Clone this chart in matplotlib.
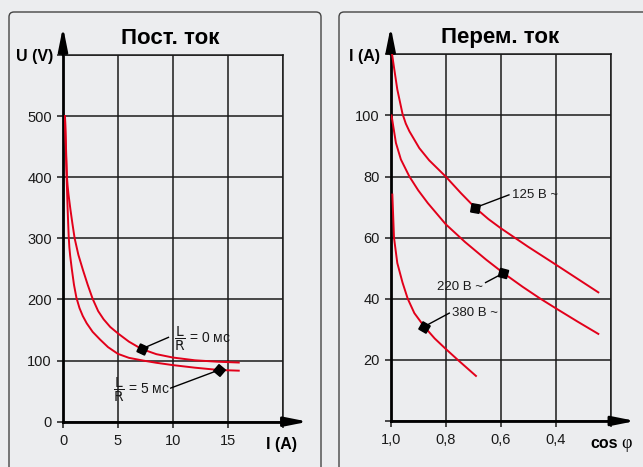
import numpy as np
import matplotlib.pyplot as plt
from matplotlib.patches import FancyBboxPatch
from matplotlib.transforms import IdentityTransform

# --- data ---
# DC: U (V) vs I (A)
dc_i_0 = [0.18, 0.27, 0.36, 0.42, 0.5, 0.67, 0.85, 1.06, 1.4, 1.82, 2.25, 2.7, 3.2, 3.7, 4.3, 5.0,
          6.0, 7.15, 8.5, 10.0, 12.0, 14.0, 16.0]
dc_u_0 = [500, 450, 400, 386, 372, 348, 325, 300, 273, 248, 224, 201, 181, 167.5, 155, 144.5,
          131, 119, 110.5, 105, 100.5, 98.2, 96.8]
dc_i_5 = [0.18, 0.25, 0.33, 0.42, 0.47, 0.52, 0.58, 0.65, 0.8, 1.0, 1.22, 1.5, 1.8, 2.16, 2.7, 3.37,
          4.1, 5.0, 6.0, 7.3, 8.5, 10.0, 12.0, 14.2, 16.0]
dc_u_5 = [500, 452, 400, 349, 325, 303, 285, 272, 250, 224, 203, 186, 173, 161, 147, 134.5,
          122, 111, 104.5, 100, 96.4, 92.6, 88.4, 84.6, 83.5]
dc_mark_0 = (7.15, 119)
dc_mark_5 = (14.2, 84.6)

# AC: I (A) vs cos phi
ac_cos_125 = [0.995, 0.987, 0.976, 0.957, 0.945, 0.932, 0.896, 0.86, 0.8, 0.745, 0.693, 0.645, 0.6,
              0.5, 0.4, 0.32, 0.245]
ac_i_125 = [120, 115.1, 108.5, 100.5, 97.3, 94.8, 89.3, 85.3, 80, 74.6, 69.8, 66.1, 63.1,
            57, 51.2, 46.5, 42.1]
ac_cos_220 = [0.997, 0.981, 0.963, 0.932, 0.9, 0.865, 0.8, 0.73, 0.653, 0.59, 0.52, 0.457,
              0.4, 0.32, 0.245]
ac_i_220 = [100, 91, 85.6, 80, 75.5, 71.3, 64.4, 58.6, 52.8, 48.4, 43.9, 40.1,
            36.9, 32.5, 28.5]
ac_cos_380 = [0.994, 0.988, 0.976, 0.957, 0.938, 0.914, 0.878, 0.84, 0.8, 0.756, 0.69]
ac_i_380 = [74.1, 60, 51.7, 45.3, 40, 35.3, 30.9, 27, 23.6, 20, 14.75]
ac_mark_125 = (0.693, 69.8)
ac_mark_220 = (0.59, 48.4)
ac_mark_380 = (0.878, 30.9)

dc_xticks = [0, 5, 10, 15, 20]
dc_xlabels = ['0', '5', '10', '15', '']
dc_yticks = [0, 100, 200, 300, 400, 500, 600]
dc_ylabels = ['0', '100', '200', '300', '400', '500', '']
ac_xticks = [1.0, 0.8, 0.6, 0.4, 0.2]
ac_xlabels = ['1,0', '0,8', '0,6', '0,4', '']
ac_yticks = [0, 20, 40, 60, 80, 100, 120]
ac_ylabels = ['', '20', '40', '60', '80', '100', '']

W, H = 643, 467
BG = '#ECEDEF'
RED = '#E2001A'
GRID = '#1a1a1a'
narrow = ['Liberation Sans Narrow', 'Liberation Sans', 'DejaVu Sans']
plt.rcParams['font.family'] = ['Liberation Sans', 'DejaVu Sans']
plt.rcParams['mathtext.fontset'] = 'custom'
plt.rcParams['mathtext.rm'] = 'Liberation Sans Narrow'
plt.rcParams['mathtext.it'] = 'Liberation Sans Narrow'

fig = plt.figure(figsize=(W / 100, H / 100), dpi=100, facecolor=BG)


def fx(x, y):
    # pixel (from top-left) -> figure fraction
    return x / W, 1 - y / H


# panel frames
for x0, x1 in [(9, 321), (339, 660)]:
    p = FancyBboxPatch((x0, -20), x1 - x0, H - 12 + 20, boxstyle='round,pad=0,rounding_size=5',
                       transform=IdentityTransform(), fc=BG, ec='#444444', lw=1.0, zorder=-5)
    fig.patches.append(p)


def setup(ax, xlim, ylim, xt, xl, yt, yl, xarrow, yarrow):
    ax.set_facecolor('none')
    ax.set_xlim(*xlim)
    ax.set_ylim(*ylim)
    ax.set_xticks(xt)
    ax.set_xticklabels(xl)
    ax.set_yticks(yt)
    ax.set_yticklabels(yl)
    ax.grid(True, color=GRID, lw=1.1)
    ax.set_axisbelow(True)
    for s in ['top', 'right']:
        ax.spines[s].set_color(GRID)
        ax.spines[s].set_linewidth(1.1)
    for s in ['left', 'bottom']:
        ax.spines[s].set_color('black')
        ax.spines[s].set_linewidth(2)
    ax.tick_params(length=4, width=1.1, color=GRID, labelsize=10.5, labelcolor='#1a1a1a')
    ax.tick_params(axis='x', pad=5)
    ax.tick_params(axis='y', pad=4)
    ap = dict(arrowstyle='-|>,head_length=1.4,head_width=0.28', lw=2, color='black',
              mutation_scale=10, shrinkA=0, shrinkB=0)
    ax.annotate('', xy=(xarrow, ylim[0]), xytext=(xlim[1], ylim[0]), arrowprops=ap,
                annotation_clip=False)
    ax.annotate('', xy=(xlim[0], yarrow), xytext=(xlim[0], ylim[1]), arrowprops=ap,
                annotation_clip=False)


def tag(ax, mark, end, text, ha, va='center', dx=0, dy=0, size=9.5):
    ax.plot([mark[0], end[0]], [mark[1], end[1]], color='black', lw=1, clip_on=False, zorder=4)
    ax.text(end[0] + dx, end[1] + dy, text, ha=ha, va=va, fontsize=size,
            family=narrow, color='#1a1a1a', zorder=5)


# --- left panel: DC ---
ax1 = fig.add_axes([63 / W, (H - 421.7) / H, 219.7 / W, 366.7 / H])
setup(ax1, (0, 20), (0, 600), dc_xticks, dc_xlabels, dc_yticks, dc_ylabels, 22.3, 646)
ax1.plot(dc_i_0, dc_u_0, color=RED, lw=1.4, zorder=3)
ax1.plot(dc_i_5, dc_u_5, color=RED, lw=1.4, zorder=3)
ax1.plot(*dc_mark_0, marker=(4, 0, 20), ms=8.5, color='black', zorder=5)
ax1.plot(*dc_mark_5, marker=(4, 0, 5), ms=8.5, color='black', zorder=5)
tag(ax1, dc_mark_0, (9.6, 138), r'$\dfrac{\mathrm{L}}{\mathrm{R}}$ = 0 мс', 'left', dx=0.5, dy=-2, size=10)
tag(ax1, dc_mark_5, (9.8, 55), r'$\dfrac{\mathrm{L}}{\mathrm{R}}$ = 5 мс', 'right', dx=-0.05, dy=-3, size=10)

# --- right panel: AC ---
ax2 = fig.add_axes([390.7 / W, (H - 421) / H, 220 / W, 366.7 / H])
setup(ax2, (1.0, 0.2), (0, 120), ac_xticks, ac_xlabels, ac_yticks, ac_ylabels, 0.11, 129)
for c, i in [(ac_cos_125, ac_i_125), (ac_cos_220, ac_i_220), (ac_cos_380, ac_i_380)]:
    ax2.plot(c, i, color=RED, lw=1.4, zorder=3)
for m, a in [(ac_mark_125, 35), (ac_mark_220, 30), (ac_mark_380, 15)]:
    ax2.plot(*m, marker=(4, 0, a), ms=8.5, color='black', zorder=5)
tag(ax2, ac_mark_125, (0.57, 74), '125 В ~', 'left', dx=-0.01)
tag(ax2, ac_mark_220, (0.655, 45.3), '220 В ~', 'right', va='top', dx=0.01, dy=0.5)
tag(ax2, ac_mark_380, (0.787, 35.3), '380 В ~', 'left', dx=-0.01)

# titles and axis labels
fig.text(*fx(170, 38), 'Пост. ток', ha='center', va='center', fontsize=16, fontweight='bold')
fig.text(*fx(500, 38), 'Перем. ток', ha='center', va='center', fontsize=16, fontweight='bold')
fig.text(*fx(35, 57), 'U (V)', ha='center', va='center', fontsize=11.5, fontweight='bold')
fig.text(*fx(281, 445), 'I (A)', ha='center', va='center', fontsize=11.5, fontweight='bold')
fig.text(*fx(365, 57), 'I (A)', ha='center', va='center', fontsize=11.5, fontweight='bold')
fig.text(*fx(604, 443), 'cos', ha='center', va='center', fontsize=11.5, fontweight='bold')
fig.text(*fx(626, 444), 'φ', ha='center', va='center', fontsize=13, family='Liberation Serif')

fig.savefig('out.png', dpi=100, facecolor=BG)
